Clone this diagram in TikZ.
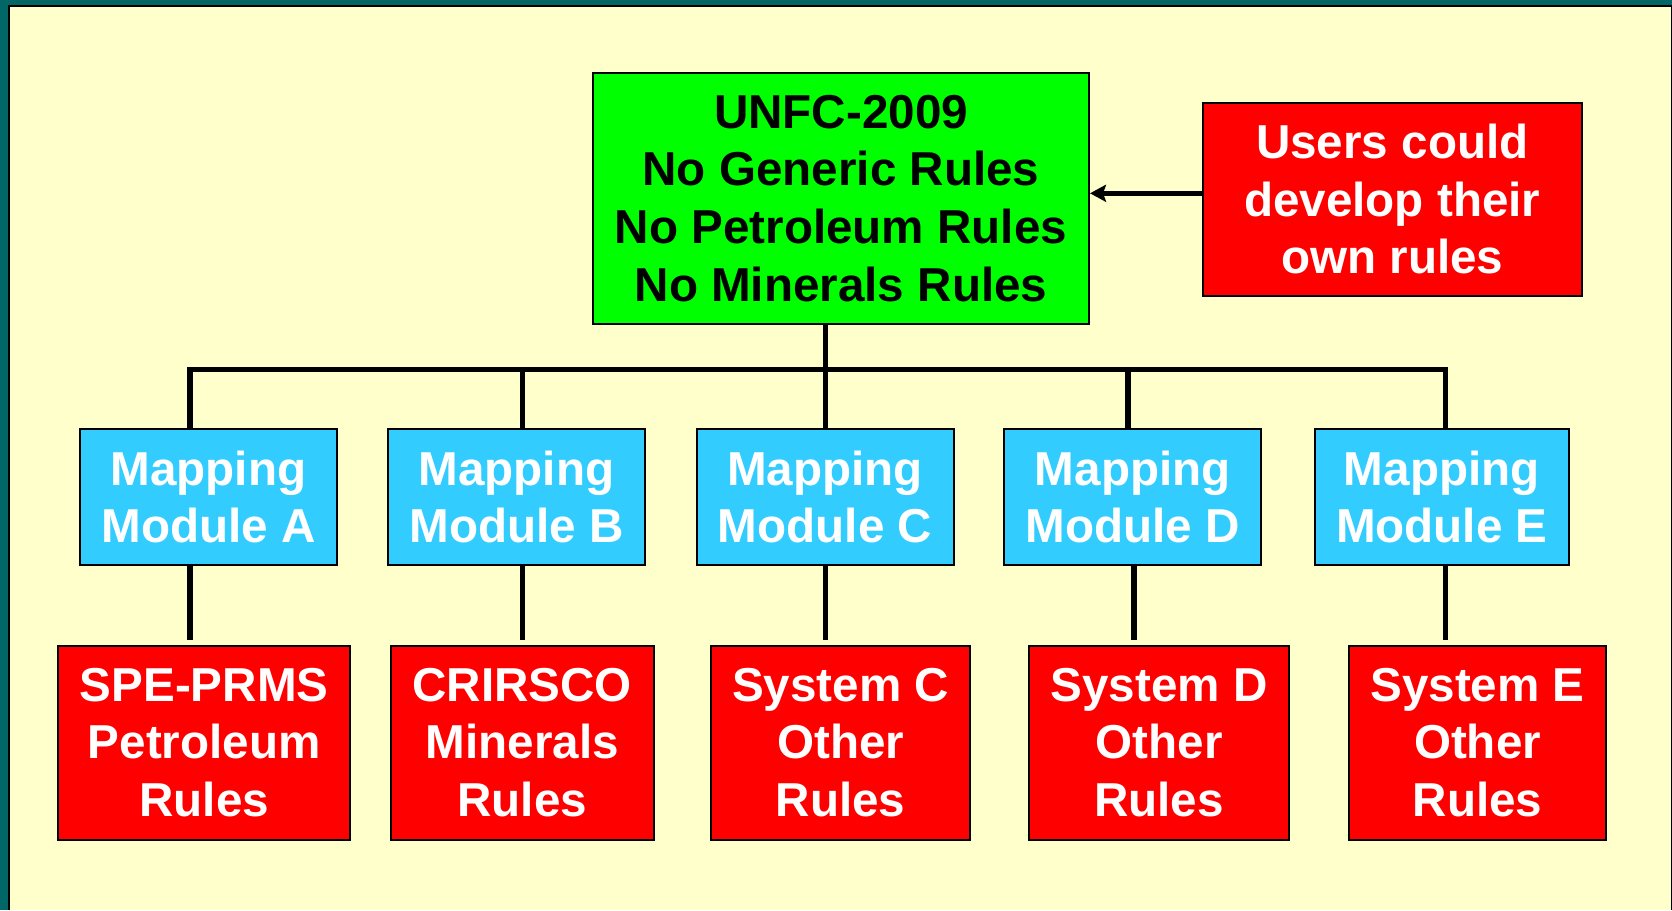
\documentclass[tikz,border=0pt]{standalone}
\usepackage{fontspec}
\setmainfont{Liberation Sans}
\usetikzlibrary{arrows.meta}
\definecolor{bgbeige}{HTML}{FFFFCC}
\definecolor{frameteal}{HTML}{006666}
\definecolor{boxgreen}{HTML}{00FF00}
\definecolor{boxblue}{HTML}{33CCFF}
\definecolor{boxred}{HTML}{FF0000}
\tikzset{
  box/.style={draw=black, line width=2pt, inner sep=0pt, align=center,
    font=\fontsize{47.6}{57.6}\selectfont\bfseries},
  greenbox/.style={box, fill=boxgreen, text=black},
  bluebox/.style={box, fill=boxblue, text=white, minimum width=257pt, minimum height=136.3pt},
  redbox/.style={box, fill=boxred, text=white, minimum height=193.8pt},
  conn/.style={line width=5.7pt, black},
}
\begin{document}
\begin{tikzpicture}[x=1pt,y=-1pt]
\useasboundingbox (0,0) rectangle (1672,910);
% frame and background
\fill[frameteal] (0,0) rectangle (1672,910);
\fill[bgbeige] (8,5) rectangle (1672,910);
\draw[black, line width=2pt] (9,910) -- (9,6) -- (1672,6);
\draw[black, line width=1pt] (1671.5,6) -- (1671.5,910);
% top boxes
\node[greenbox, minimum width=496pt, minimum height=251.5pt] (top) at (841,198.3)
  {UNFC-2009\\No Generic Rules\\No Petroleum Rules\\No Minerals Rules};
\node[redbox, text=white, minimum width=378.5pt, minimum height=193.5pt] (users) at (1392.3,199.3)
  {Users could\\develop their\\own rules};
% mapping modules
\node[bluebox] (mA) at (208.5,496.9) {Mapping\\Module A};
\node[bluebox] (mB) at (516.5,496.9) {Mapping\\Module B};
\node[bluebox] (mC) at (825,496.9) {Mapping\\Module C};
\node[bluebox] (mD) at (1132.8,496.9) {Mapping\\Module D};
\node[bluebox, minimum width=253.5pt] (mE) at (1441.8,496.9) {Mapping\\Module E};
% systems
\node[redbox, minimum width=291.7pt] (sA) at (204.2,742.6) {SPE-PRMS\\Petroleum\\Rules};
\node[redbox, minimum width=262.9pt] (sB) at (522.2,742.6) {CRIRSCO\\Minerals\\Rules};
\node[redbox, minimum width=259pt] (sC) at (840.6,742.6) {System C\\Other\\Rules};
\node[redbox, minimum width=260pt] (sD) at (1159.1,742.6) {System D\\Other\\Rules};
\node[redbox, minimum width=257pt] (sE) at (1477.5,742.6) {System E\\Other\\Rules};
% bus coordinates
\coordinate (bA) at (190.3,369.5);
\coordinate (bB) at (522.5,369.5);
\coordinate (bC) at (825.6,369.5);
\coordinate (bD) at (1127.9,369.5);
\coordinate (bE) at (1445.5,369.5);
\coordinate (lD) at (1133.7,369.5);
\coordinate (ay) at (0,193.3);
% connectors
\draw[conn] (top.south -| bC) -- (mC.north -| bC);
\draw[conn, line join=miter] (mA.north -| bA) -- (bA) -- (bE) -- (mE.north -| bE);
\draw[conn] (bB) -- (mB.north -| bB);
\draw[conn] (bD) -- (mD.north -| bD);
\draw[conn] (mA.south -| bA) -- ([yshift=4.7pt]sA.north -| bA);
\draw[conn] (mB.south -| bB) -- ([yshift=4.7pt]sB.north -| bB);
\draw[conn] (mC.south -| bC) -- ([yshift=4.7pt]sC.north -| bC);
\draw[conn] (mD.south -| lD) -- ([yshift=4.7pt]sD.north -| lD);
\draw[conn] (mE.south -| bE) -- ([yshift=4.7pt]sE.north -| bE);
\draw[line width=5pt, black, -{Stealth[length=16pt,width=17pt,inset=3pt]}]
  (users.west |- ay) -- (top.east |- ay);
\end{tikzpicture}
\end{document}
